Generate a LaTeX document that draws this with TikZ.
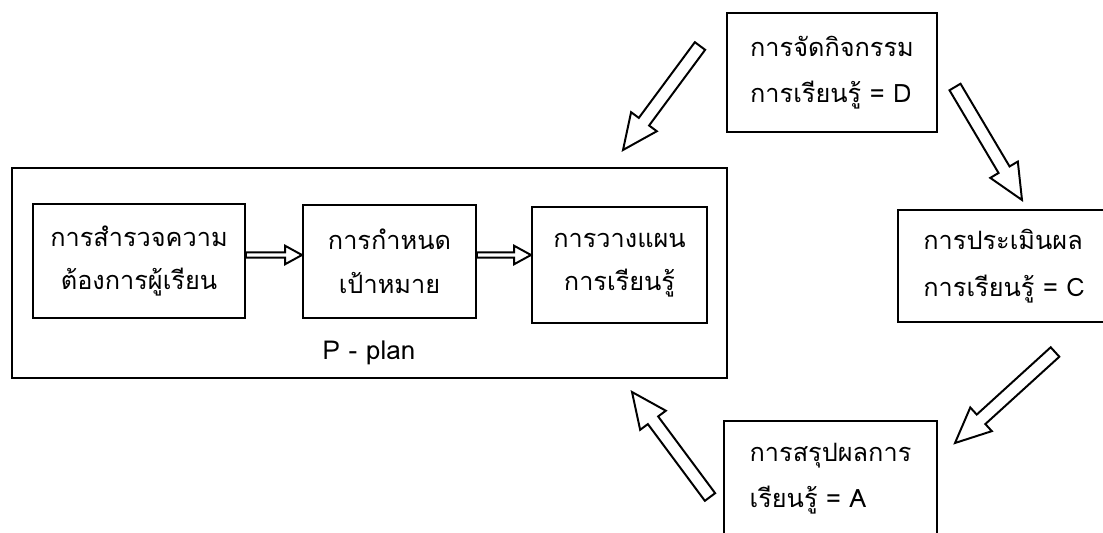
\documentclass[tikz,border=0pt]{standalone}
\usepackage{fontspec}
\setmainfont[Script=Thai]{Loma}
\usetikzlibrary{calc}

\tikzset{
  box/.style={draw, line width=1.4pt, inner sep=0pt, align=center,
    font=\fontsize{18}{31}\selectfont},
  sidebox/.style={box, align=left, font=\fontsize{18}{33}\selectfont},
  arrowline/.style={line width=1.4pt, line join=miter, fill=white},
}

% hollow block arrow: tail, tip, half shaft, half head, head length
\newcommand{\blockarrow}[5]{%
  \coordinate (hb) at ($(#2)!#5!(#1)$);
  \draw[arrowline] ($(#1)!#3!90:(#2)$) -- ($(hb)!#3!90:(#2)$)
    -- ($(hb)!#4!90:(#2)$) -- (#2) -- ($(hb)!#4!-90:(#2)$)
    -- ($(hb)!#3!-90:(#2)$) -- ($(#1)!#3!-90:(#2)$) -- cycle;
}

\begin{document}
\begin{tikzpicture}[x=0.025cm, y=-0.025cm]
\useasboundingbox (0,0) rectangle (1103,532);
\clip (0,0) rectangle (1103,532);

% P - plan
\node[box, minimum width=17.875cm, minimum height=5.25cm] (planbox) at (369.5,273) {};
\node[box, minimum width=5.3cm, minimum height=2.85cm] (survey) at (139,261) {การสำรวจความ\\ต้องการผู้เรียน};
\node[box, minimum width=4.325cm, minimum height=2.825cm] (target) at (389.5,261.5) {การกำหนด\\เป้าหมาย};
\node[box, minimum width=4.375cm, minimum height=2.9cm] (scheme) at (619.5,265) {การวางแผน\\การเรียนรู้};
\node[font=\fontsize{18.5}{31}\selectfont] (plan) at (369,353) {P - plan};

\coordinate (s1) at ($(survey.east)+(0,-6)$);
\coordinate (s2) at (target.west |- s1);
\coordinate (t1) at (target.east |- s1);
\coordinate (t2) at (scheme.west |- s1);
\blockarrow{s1}{s2}{0.065cm}{0.23cm}{0.42cm}
\blockarrow{t1}{t2}{0.065cm}{0.23cm}{0.42cm}

% D, C, A
\node[sidebox, minimum width=5.25cm, minimum height=2.975cm] (doing) at (832,72.5) {การจัดกิจกรรม\\การเรียนรู้ = D};
\node[sidebox, minimum width=5.3cm, minimum height=2.8cm] (check) at (1004,266) {การประเมินผล\\การเรียนรู้ = C};
\node[sidebox, minimum width=5.325cm, minimum height=2.875cm] (act) at (830.5,478.5) {การสรุปผลการ\\เรียนรู้ = A};

% cycle arrows
\coordinate (d1) at (700,46);
\coordinate (d2) at (623,150);
\coordinate (c1) at (955,87);
\coordinate (c2) at (1022,200);
\coordinate (a1) at (1055,352);
\coordinate (a2) at (955,443);
\coordinate (p1) at (710,497);
\coordinate (p2) at (632,392);
\blockarrow{d1}{d2}{0.16cm}{0.4cm}{0.88cm}
\blockarrow{c1}{c2}{0.16cm}{0.4cm}{0.88cm}
\blockarrow{a1}{a2}{0.16cm}{0.4cm}{0.88cm}
\blockarrow{p1}{p2}{0.16cm}{0.4cm}{0.88cm}
\end{tikzpicture}
\end{document}
